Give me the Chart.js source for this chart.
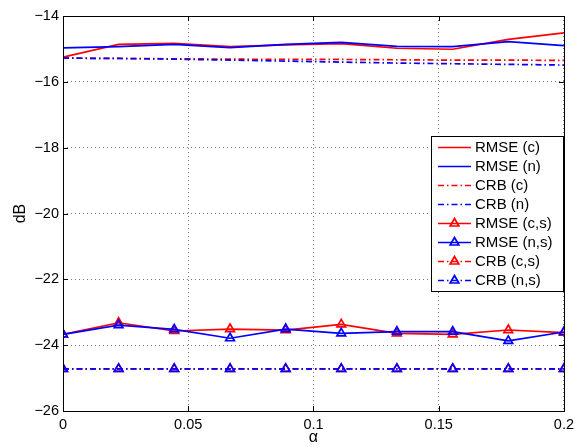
<!DOCTYPE html>
<html>
<head>
<meta charset="utf-8">
<script src="https://cdn.jsdelivr.net/npm/chart.js@4"></script>
<style>
  html, body { margin: 0; padding: 0; background: #fff; }
  #wrap { width: 579px; height: 447px; }
</style>
</head>
<body>
<div id="wrap"><canvas id="chart" width="579" height="447"></canvas></div>
<script>
// alpha values (10 points from 0 to 0.2)
const alphas = [0, 0.0222, 0.0444, 0.0667, 0.0889, 0.1111, 0.1333, 0.1556, 0.1778, 0.2];

// dB values
const rmseC  = [-15.25, -14.86, -14.83, -14.93, -14.88, -14.84, -14.98, -15.01, -14.71, -14.51];
const rmseN  = [-14.97, -14.93, -14.86, -14.96, -14.86, -14.80, -14.92, -14.93, -14.78, -14.90];
const crbC   = [-15.28, -15.29, -15.30, -15.31, -15.32, -15.32, -15.33, -15.34, -15.34, -15.35];
const crbN   = [-15.28, -15.29, -15.31, -15.34, -15.37, -15.40, -15.43, -15.45, -15.47, -15.49];
const rmseCS = [-23.67, -23.32, -23.57, -23.51, -23.54, -23.37, -23.64, -23.67, -23.54, -23.62];
const rmseNS = [-23.67, -23.39, -23.52, -23.79, -23.51, -23.64, -23.59, -23.59, -23.87, -23.60];
const crbCS  = [-24.72, -24.72, -24.72, -24.72, -24.72, -24.72, -24.72, -24.72, -24.72, -24.72];
const crbNS  = [-24.72, -24.72, -24.72, -24.72, -24.72, -24.72, -24.72, -24.72, -24.72, -24.72];

const seriesLabels = ["RMSE (c)", "RMSE (n)", "CRB (c)", "CRB (n)", "RMSE (c,s)", "RMSE (n,s)", "CRB (c,s)", "CRB (n,s)"];
const seriesValues = [rmseC, rmseN, crbC, crbN, rmseCS, rmseNS, crbCS, crbNS];

const RED = "#ff0000", BLUE = "#0000ff";
const DASHDOT = [6, 3, 1.5, 3];
const FONT = "Liberation Sans, Arial, Helvetica, sans-serif";

function makeSet(i, color, dash, marker) {
  return {
    label: seriesLabels[i],
    data: alphas.map((a, k) => ({ x: a, y: seriesValues[i][k] })),
    borderColor: color,
    borderWidth: 1.7,
    borderDash: dash,
    pointStyle: marker ? "triangle" : false,
    pointRadius: marker ? 5 : 0,
    pointBorderColor: color,
    pointBorderWidth: 1.7,
    pointBackgroundColor: "rgba(0,0,0,0)",
    fill: false,
    tension: 0,
    order: 8 - i // later series drawn on top
  };
}

const datasets = [
  makeSet(0, RED, [], false),
  makeSet(1, BLUE, [], false),
  makeSet(2, RED, DASHDOT, false),
  makeSet(3, BLUE, DASHDOT, false),
  makeSet(4, RED, [], true),
  makeSet(5, BLUE, [], true),
  makeSet(6, RED, DASHDOT, true),
  makeSet(7, BLUE, DASHDOT, true)
];

// box + inner tick marks like a matlab axes
const boxPlugin = {
  id: "box",
  afterDatasetsDraw(chart) {
    const { ctx, chartArea: a, scales } = chart;
    ctx.save();
    ctx.strokeStyle = "#000";
    ctx.lineWidth = 1;
    ctx.setLineDash([]);
    ctx.strokeRect(Math.round(a.left) + 0.5, Math.round(a.top) + 0.5,
      Math.round(a.right - a.left), Math.round(a.bottom - a.top));
    const L = 5;
    ctx.beginPath();
    scales.x.ticks.forEach(t => {
      const x = Math.round(scales.x.getPixelForValue(t.value)) + 0.5;
      ctx.moveTo(x, a.bottom); ctx.lineTo(x, a.bottom - L);
      ctx.moveTo(x, a.top); ctx.lineTo(x, a.top + L);
    });
    scales.y.ticks.forEach(t => {
      const y = Math.round(scales.y.getPixelForValue(t.value)) + 0.5;
      ctx.moveTo(a.left, y); ctx.lineTo(a.left + L, y);
      ctx.moveTo(a.right, y); ctx.lineTo(a.right - L, y);
    });
    ctx.stroke();
    ctx.restore();
  }
};

// legend box in the upper right of the axes
const legendPlugin = {
  id: "insideLegend",
  afterDraw(chart) {
    const ctx = chart.ctx;
    const left = 431, top = 136, w = 132, h = 155, rowH = 19;
    ctx.save();
    ctx.fillStyle = "#fff";
    ctx.fillRect(left, top, w, h);
    ctx.strokeStyle = "#000";
    ctx.lineWidth = 1;
    ctx.strokeRect(left + 0.5, top + 0.5, w, h);
    ctx.font = "15px " + FONT;
    ctx.textBaseline = "middle";
    chart.data.datasets.forEach((ds, i) => {
      const y = top + 11.5 + i * rowH;
      ctx.strokeStyle = ds.borderColor;
      ctx.lineWidth = 1.7;
      ctx.setLineDash(ds.borderDash);
      ctx.beginPath();
      ctx.moveTo(left + 7, y);
      ctx.lineTo(left + 40, y);
      ctx.stroke();
      ctx.setLineDash([]);
      if (ds.pointStyle) {
        const cx = left + 23.5, r = 5;
        ctx.beginPath();
        ctx.moveTo(cx, y - r);
        ctx.lineTo(cx + r * 0.87, y + r * 0.5);
        ctx.lineTo(cx - r * 0.87, y + r * 0.5);
        ctx.closePath();
        ctx.stroke();
      }
      ctx.fillStyle = "#000";
      ctx.fillText(ds.label, left + 44, y);
    });
    ctx.restore();
  }
};

new Chart(document.getElementById("chart"), {
  type: "line",
  data: { datasets },
  options: {
    responsive: false,
    animation: false,
    layout: { padding: { top: 16, right: 13, left: 0, bottom: 0 } },
    plugins: { legend: { display: false }, tooltip: { enabled: false } },
    scales: {
      x: {
        type: "linear",
        min: 0, max: 0.2,
        border: { display: false, dash: [1, 3] },
        grid: { color: "#777", drawTicks: false },
        ticks: {
          stepSize: 0.05, padding: 5, color: "#000",
          font: { family: FONT, size: 14.5 },
          callback: v => String(Math.round(v * 100) / 100)
        },
        title: { display: true, text: "α", color: "#000", font: { family: FONT, size: 16 }, padding: { top: 0, bottom: 0 } },
        afterFit(scale) { scale.height = 36; }
      },
      y: {
        min: -26, max: -14,
        border: { display: false, dash: [1, 3] },
        grid: { color: "#777", drawTicks: false },
        ticks: {
          stepSize: 2, padding: 4, color: "#000",
          font: { family: FONT, size: 14.5 },
          callback: v => (v < 0 ? "\u2212" : "") + Math.abs(v)
        },
        title: { display: true, text: "dB", color: "#000", font: { family: FONT, size: 16 }, padding: { top: 11, bottom: 4 } },
        afterFit(scale) { scale.width = 63; }
      }
    }
  },
  plugins: [boxPlugin, legendPlugin]
});
</script>
</body>
</html>
